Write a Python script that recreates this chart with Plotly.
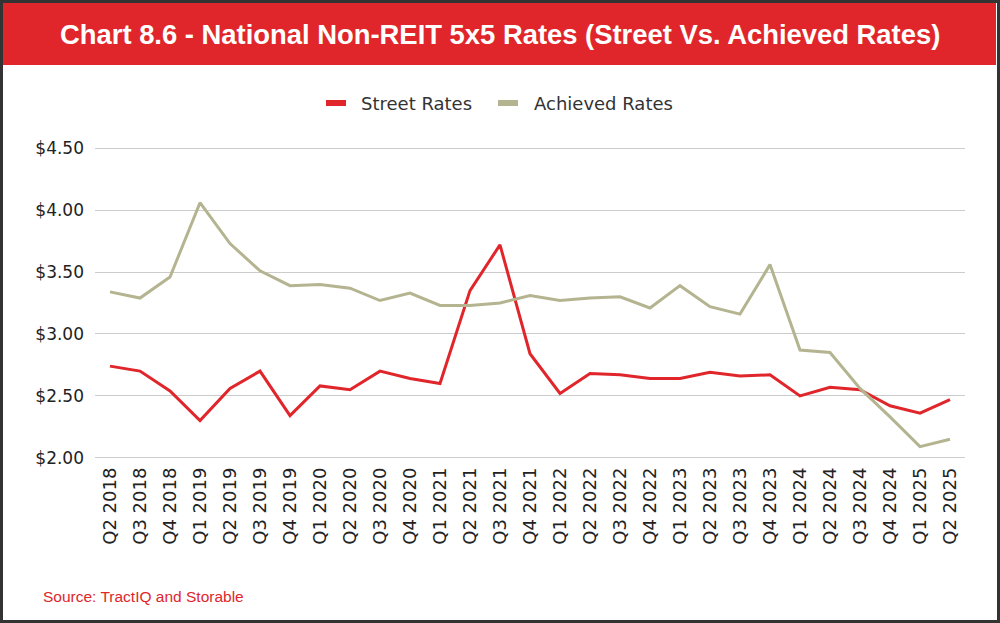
import plotly.graph_objects as go

quarters = ["Q2 2018", "Q3 2018", "Q4 2018", "Q1 2019", "Q2 2019", "Q3 2019", "Q4 2019",
            "Q1 2020", "Q2 2020", "Q3 2020", "Q4 2020", "Q1 2021", "Q2 2021", "Q3 2021",
            "Q4 2021", "Q1 2022", "Q2 2022", "Q3 2022", "Q4 2022", "Q1 2023", "Q2 2023",
            "Q3 2023", "Q4 2023", "Q1 2024", "Q2 2024", "Q3 2024", "Q4 2024", "Q1 2025",
            "Q2 2025"]
street_rates = [2.74, 2.70, 2.54, 2.30, 2.56, 2.70, 2.34, 2.58, 2.55, 2.70, 2.64, 2.60,
                3.35, 3.72, 2.84, 2.52, 2.68, 2.67, 2.64, 2.64, 2.69, 2.66, 2.67, 2.50,
                2.57, 2.55, 2.42, 2.36, 2.47]
achieved_rates = [3.34, 3.29, 3.46, 4.06, 3.73, 3.51, 3.39, 3.40, 3.37, 3.27, 3.33, 3.23,
                  3.23, 3.25, 3.31, 3.27, 3.29, 3.30, 3.21, 3.39, 3.22, 3.16, 3.56, 2.87,
                  2.85, 2.56, 2.33, 2.09, 2.15]
y_ticks = [2.0, 2.5, 3.0, 3.5, 4.0, 4.5]

W, H = 1000, 623
L, R, T, B = 95, 965, 147, 459
RED = "#E0262B"
KHAKI = "#B4B491"

def px_x(px):
    return (px - L) / (R - L)

def px_y(py):
    return (B - py) / (B - T)

fig = go.Figure()
fig.add_trace(go.Scatter(x=quarters, y=street_rates, name="Street Rates", mode="lines",
                         line=dict(color=RED, width=3), showlegend=False))
fig.add_trace(go.Scatter(x=quarters, y=achieved_rates, name="Achieved Rates", mode="lines",
                         line=dict(color=KHAKI, width=3), showlegend=False))

shapes = [
    # title bar
    dict(type="rect", xref="paper", yref="paper", x0=px_x(3), x1=px_x(996),
         y0=px_y(65), y1=px_y(3), fillcolor=RED, line=dict(width=0), layer="below"),
    # outer border
    dict(type="rect", xref="paper", yref="paper", x0=px_x(1.5), x1=px_x(998.5),
         y0=px_y(621.5), y1=px_y(1.5), line=dict(color="#333333", width=3)),
    # legend swatches
    dict(type="rect", xref="paper", yref="paper", x0=px_x(326), x1=px_x(346),
         y0=px_y(106), y1=px_y(100), fillcolor=RED, line=dict(width=0)),
    dict(type="rect", xref="paper", yref="paper", x0=px_x(498), x1=px_x(518),
         y0=px_y(106), y1=px_y(100), fillcolor=KHAKI, line=dict(width=0)),
]

annotations = [
    dict(text="<b>Chart 8.6 - National Non-REIT 5x5 Rates (Street Vs. Achieved Rates)</b>",
         xref="paper", yref="paper", x=px_x(500), y=px_y(35), xanchor="center", yanchor="middle",
         showarrow=False, font=dict(family="Liberation Sans, Arial, sans-serif",
                                    size=27.4, color="white")),
    dict(text="Street Rates", xref="paper", yref="paper", x=px_x(359), y=px_y(103),
         xanchor="left", yanchor="middle", showarrow=False,
         font=dict(family="DejaVu Sans", size=18, color="#333333")),
    dict(text="Achieved Rates", xref="paper", yref="paper", x=px_x(532), y=px_y(103),
         xanchor="left", yanchor="middle", showarrow=False,
         font=dict(family="DejaVu Sans", size=18, color="#333333")),
    dict(text="Source: TractIQ and Storable", xref="paper", yref="paper", x=px_x(41), y=px_y(596),
         xanchor="left", yanchor="middle", showarrow=False,
         font=dict(family="Liberation Sans, Arial, sans-serif", size=15.5, color=RED)),
]

fig.update_layout(
    width=W, height=H,
    margin=dict(l=L, r=W - R, t=T, b=H - B, pad=0),
    paper_bgcolor="white", plot_bgcolor="white",
    shapes=shapes, annotations=annotations,
    showlegend=False,
    xaxis=dict(type="category", range=[-0.5, len(quarters) - 0.5], showgrid=False,
               tickangle=-90, tickfont=dict(family="DejaVu Sans", size=18, color="#222222"),
               ticks="", showline=False, zeroline=False, ticklabelstandoff=4),
    yaxis=dict(range=[1.99, 4.51], tickvals=y_ticks, ticktext=[f"${v:.2f}" for v in y_ticks],
               showgrid=True, gridcolor="#CCCCCC", gridwidth=1, zeroline=False,
               tickfont=dict(family="DejaVu Sans", size=17, color="#222222"), ticks="",
               ticklabelstandoff=10),
)

fig.write_html("out.html")
